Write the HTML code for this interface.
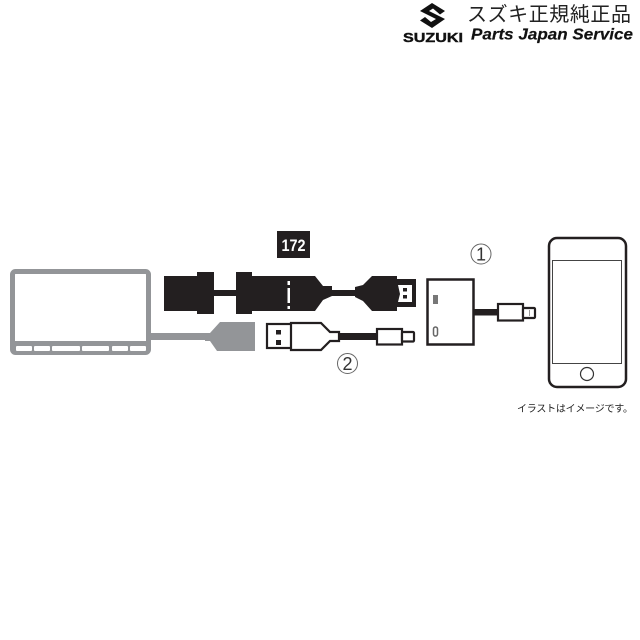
<!DOCTYPE html>
<html><head><meta charset="utf-8"><style>
html,body{margin:0;padding:0;background:#fff}
svg{display:block}
</style></head><body>
<svg xmlns="http://www.w3.org/2000/svg" width="640" height="640" viewBox="0 0 640 640">
<rect width="640" height="640" fill="#fff"/>
<!-- header -->
<polygon fill="#111" points="445,11 432,3 420,11 436,19 431,22 425,17 420,20.5 432,28 445,19 429,11 433,8.500 440,14.500"/>
<text x="403" y="42" font-family="Liberation Sans,sans-serif" font-weight="700" font-size="12.500" textLength="60" lengthAdjust="spacingAndGlyphs" fill="#111" stroke="#111" stroke-width=".4">SUZUKI</text>
<text x="467" y="21" font-family="'Liberation Sans','Noto Sans CJK JP',sans-serif" font-size="20" textLength="164" fill="#222">スズキ正規純正品</text>
<text x="471" y="39.500" font-family="Liberation Sans,sans-serif" font-weight="700" font-style="italic" font-size="16" textLength="162" lengthAdjust="spacingAndGlyphs" fill="#111" stroke="#111" stroke-width=".2">Parts Japan Service</text>

<!-- monitor -->
<rect x="12.500" y="271.500" width="136" height="81" rx="3" fill="#fff" stroke="#939598" stroke-width="5"/>
<rect x="13" y="341" width="135" height="11" fill="#939598"/>
<g fill="#fff">
<rect x="16" y="346" width="16" height="5" rx="1"/><rect x="34" y="346" width="16" height="5" rx="1"/>
<rect x="52" y="346" width="28" height="5" rx="1"/><rect x="82" y="346" width="27" height="5" rx="1"/>
<rect x="112" y="346" width="16" height="5" rx="1"/><rect x="130" y="346" width="16" height="5" rx="1"/>
</g>
<!-- grey cable -->
<rect x="151" y="333" width="55" height="7" fill="#939598"/>
<polygon points="205,333 210,333 220,322 255,322 255,351 217,351 210,341 205,341" fill="#939598"/>

<!-- black HDMI -->
<g fill="#231f20">
<rect x="164" y="276" width="34" height="35"/>
<rect x="197" y="272" width="17" height="42"/>
<rect x="214" y="290" width="22" height="6"/>
<rect x="236" y="272" width="16" height="42"/>
<rect x="252" y="276" width="35" height="35"/>
<rect x="287" y="276" width="4" height="35"/>
<polygon points="290,276 315,276 323,286 332,286 332,296 323,300 315,311 290,311"/>
<rect x="332" y="290" width="24" height="6"/>
<polygon points="355,287 363,285 372,276 397,276 397,311 372,311 363,301 355,297"/>
<polygon points="397,279 416,279 416,307 397,307"/>
</g>
<polygon points="398,285 412,285 412,302 398,302 400,294" fill="#fff"/>
<rect x="403" y="288" width="4" height="3.500" fill="#231f20"/>
<rect x="403" y="295" width="4" height="3.500" fill="#231f20"/>
<rect x="287.500" y="281" width="2.500" height="4" fill="#fff"/>
<rect x="287.500" y="288" width="2.500" height="15" fill="#fff"/>
<rect x="287.500" y="306" width="2.500" height="3" fill="#fff"/>

<!-- USB cable -->
<g stroke="#231f20" stroke-width="2.200" fill="#fff">
<rect x="267" y="324" width="25" height="24"/>
<polygon points="291,323 321,323 330,332 339,332 339,341 330,341 321,350 291,350"/>
<rect x="339" y="333" width="38" height="7" fill="#231f20" stroke="none"/>
<rect x="377" y="329" width="25" height="15.500"/>
<rect x="402" y="332" width="12" height="9.500" rx="1"/>
</g>
<rect x="276" y="330" width="5" height="4.500" fill="#231f20"/>
<rect x="276" y="340" width="5" height="5" fill="#231f20"/>

<!-- circled numbers -->
<circle cx="347.500" cy="363.500" r="10" fill="none" stroke="#666" stroke-width="1"/>
<text x="347.500" y="370" text-anchor="middle" font-family="Liberation Sans,sans-serif" font-size="18" fill="#333">2</text>
<circle cx="481" cy="254" r="10" fill="none" stroke="#666" stroke-width="1"/>
<text x="481" y="260.500" text-anchor="middle" font-family="Liberation Sans,sans-serif" font-size="18" fill="#333">1</text>

<!-- 172 -->
<rect x="277" y="231" width="33" height="27" fill="#231f20"/>
<text x="293.500" y="251" text-anchor="middle" font-family="Liberation Sans,sans-serif" font-weight="700" font-size="17" textLength="24" lengthAdjust="spacingAndGlyphs" fill="#fff">172</text>

<!-- adapter -->
<rect x="427.500" y="279.500" width="46" height="65" fill="#fff" stroke="#231f20" stroke-width="2.500"/>
<rect x="433" y="295" width="5" height="9" fill="#777"/>
<rect x="433.500" y="327" width="4" height="9" rx="2" fill="#fff" stroke="#666" stroke-width="1.500"/>
<rect x="474" y="309" width="24" height="6.500" fill="#231f20"/>
<g stroke="#231f20" stroke-width="2.200" fill="#fff">
<rect x="498" y="304" width="25" height="16.500"/>
<rect x="523" y="308" width="12" height="10" rx="1"/>
</g>
<rect x="529" y="310" width="1" height="6" fill="#999"/>

<!-- phone -->
<rect x="549" y="238" width="77" height="149" rx="8" fill="#fff" stroke="#231f20" stroke-width="2.500"/>
<rect x="552.500" y="260.500" width="69" height="103" fill="#fff" stroke="#444" stroke-width="1"/>
<circle cx="587" cy="374" r="6.500" fill="none" stroke="#333" stroke-width="1.200"/>

<text x="517" y="412" font-family="'Liberation Sans','Noto Sans CJK JP',sans-serif" font-size="10" textLength="116" fill="#222">イラストはイメージです。</text>
</svg>
</body></html>
